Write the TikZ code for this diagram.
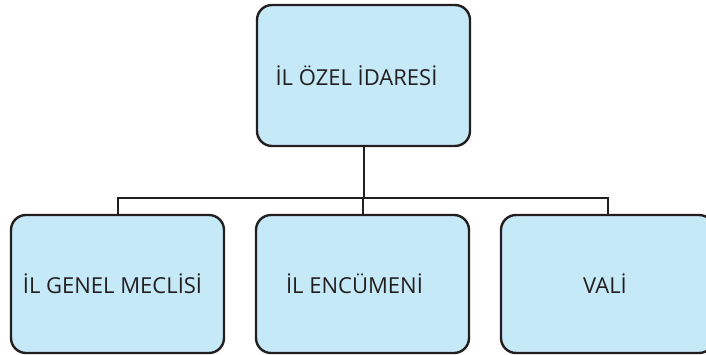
\documentclass[tikz,border=0pt]{standalone}
\usepackage{fontspec}
\setmainfont{Open Sans}
\definecolor{boxfill}{HTML}{C6E9F8}
\definecolor{boxline}{HTML}{231F20}
\begin{document}
\begin{tikzpicture}[x=1pt,y=-1pt,
  orgbox/.style={draw=boxline, line width=2.4pt, fill=boxfill, rounded corners=15pt,
    minimum width=213pt, inner sep=0pt, font=\fontsize{22}{26}\selectfont, text=boxline},
  link/.style={draw=boxline, line width=2pt}]
  \useasboundingbox (0,0) rectangle (706,355);
  \clip (0,0) rectangle (706,355);
  \node[orgbox, minimum height=141pt] (top) at (363.5,75.5) {\hspace*{-14pt}İL ÖZEL İDARESİ};
  \node[orgbox, minimum height=138pt] (left) at (117.5,284) {\hspace*{-10pt}İL GENEL MECLİSİ};
  \node[orgbox, minimum height=138pt] (mid) at (362.5,284) {\hspace*{-16pt}İL ENCÜMENİ};
  \node[orgbox, minimum height=138pt] (right) at (607.5,284) {\hspace*{-5pt}VALİ};
  \coordinate (bus) at (363,198);
  \draw[link] (top.south) -- (top.south |- bus);
  \draw[link] (left.north) -- (left.north |- bus) -- (right.north |- bus) -- (right.north);
  \draw[link] (mid.north) -- (mid.north |- bus);
\end{tikzpicture}
\end{document}
